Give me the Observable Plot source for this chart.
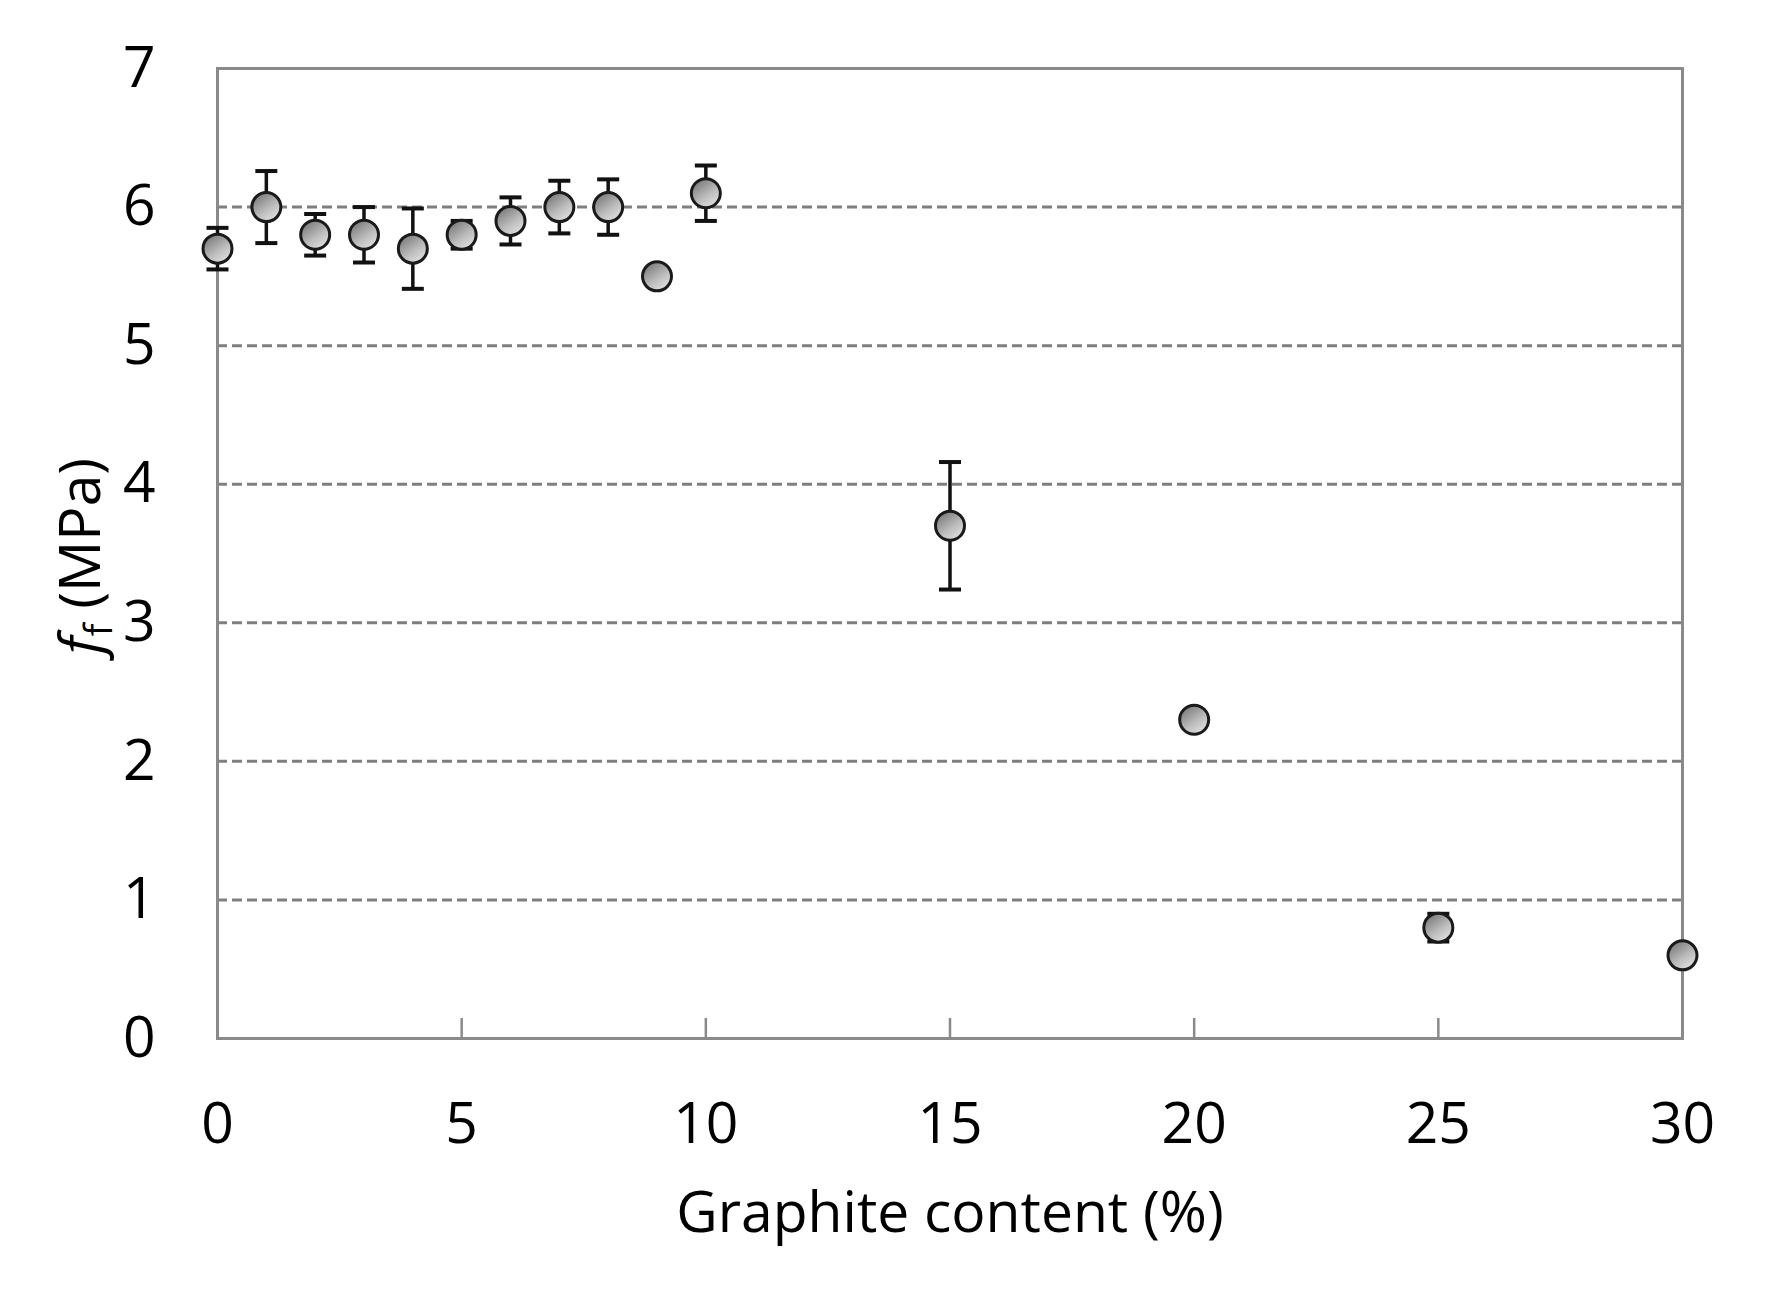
<!DOCTYPE html>
<html>
<head>
<meta charset="utf-8">
<script src="https://cdn.jsdelivr.net/npm/d3@7"></script>
<script src="https://cdn.jsdelivr.net/npm/@observablehq/plot@0.6"></script>
<style>
  html, body { margin: 0; padding: 0; background: #fff; }
  #chart svg { display: block; }
</style>
</head>
<body>
<div id="chart"></div>
<script>
// Data
const graphite = [0, 1, 2, 3, 4, 5, 6, 7, 8, 9, 10, 15, 20, 25, 30];
const strength = [5.7, 6.0, 5.8, 5.8, 5.7, 5.8, 5.9, 6.0, 6.0, 5.5, 6.1, 3.7, 2.3, 0.8, 0.6];
const errors   = [0.15, 0.26, 0.15, 0.2, 0.29, 0.1, 0.17, 0.19, 0.2, 0, 0.2, 0.46, 0, 0.1, 0];
const xTicks = [0, 5, 10, 15, 20, 25, 30];
const yTicks = [0, 1, 2, 3, 4, 5, 6, 7];
const gridTicks = [1, 2, 3, 4, 5, 6];
const innerTicks = [5, 10, 15, 20, 25];
const xTitle = "Graphite content (%)";

const data = graphite.map((x, i) => ({x, y: strength[i], e: errors[i]}));
const withErr = data.filter(d => d.e > 0);

const capSymbol = {
  draw(context) {
    context.moveTo(-11, 0);
    context.lineTo(11, 0);
  }
};

const chart = Plot.plot({
  width: 1772,
  height: 1296,
  marginLeft: 217,
  marginRight: 90,
  marginTop: 68,
  marginBottom: 258,
  style: {fontFamily: "'Open Sans', sans-serif", fontSize: "57px", color: "#000", background: "#fff"},
  x: {domain: [0, 30]},
  y: {domain: [0, 7]},
  marks: [
    Plot.gridY(gridTicks, {stroke: "#7f7f7f", strokeOpacity: 1, strokeWidth: 3, strokeDasharray: "10,5"}),
    Plot.axisX(innerTicks, {tickSize: -20, stroke: "#8a8a8a", strokeWidth: 2.5, tickFormat: () => "", label: null}),
    Plot.axisX(xTicks, {tickSize: 0, tickPadding: 64, label: null, fontSize: 57, tickFormat: d => String(d)}),
    Plot.axisY(yTicks, {tickSize: 0, tickPadding: 62, label: null, fontSize: 57, tickFormat: d => String(d)}),
    Plot.frame({stroke: "#8a8a8a", strokeWidth: 3}),
    Plot.ruleX(withErr, {x: "x", y1: d => d.y - d.e, y2: d => d.y + d.e, stroke: "#111", strokeWidth: 3.5}),
    Plot.dot(withErr, {x: "x", y: d => d.y + d.e, symbol: capSymbol, r: 10, stroke: "#111", strokeWidth: 4, fill: "none"}),
    Plot.dot(withErr, {x: "x", y: d => d.y - d.e, symbol: capSymbol, r: 10, stroke: "#111", strokeWidth: 4, fill: "none"}),
    Plot.dot(data, {x: "x", y: "y", r: 14.5, fill: "url(#dotGrad)", stroke: "#1a1a1a", strokeWidth: 3}),
    Plot.text([xTitle], {frameAnchor: "bottom", dy: 175, lineAnchor: "middle", textAnchor: "middle", fontSize: 57})
  ]
});

document.getElementById("chart").appendChild(chart);

// gradient fill for markers
const svg = d3.select(chart);
const defs = svg.insert("defs", ":first-child");
const g = defs.append("linearGradient").attr("id", "dotGrad")
  .attr("x1", "0.1").attr("y1", "0").attr("x2", "0.8").attr("y2", "1");
g.append("stop").attr("offset", "0").attr("stop-color", "#6e6e6e");
g.append("stop").attr("offset", "0.6").attr("stop-color", "#bdbdbd");
g.append("stop").attr("offset", "1").attr("stop-color", "#e4e4e4");

// y-axis title with italic f and subscript f
const yt = svg.append("text")
  .attr("transform", "translate(100,556) rotate(-90)")
  .attr("text-anchor", "middle")
  .attr("font-family", "'Open Sans', sans-serif")
  .attr("font-size", 57)
  .attr("fill", "#000");
yt.append("tspan").attr("font-style", "italic").text("f");
yt.append("tspan").attr("font-size", 38).attr("dy", 12).text("f");
yt.append("tspan").attr("dy", -12).text(" (MPa)");
</script>
</body>
</html>
